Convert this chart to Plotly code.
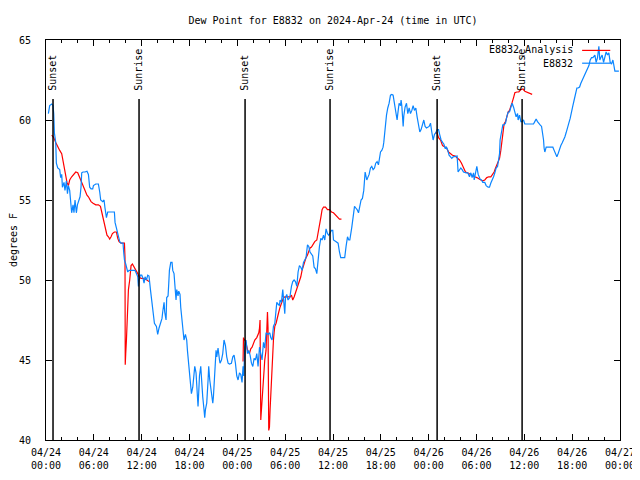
import pandas as pd
import plotly.graph_objects as go

START = pd.Timestamp("2024-04-24 00:00")
TITLE = "Dew Point for E8832 on 2024-Apr-24 (time in UTC)"
Y_LABEL = "degrees F"
SERIES_NAMES = ["E8832_Analysis", "E8832"]
Y_TICKS = [40, 45, 50, 55, 60, 65]

# Station observations: hours since 04/24 00:00 UTC, dew point (F)
blue_hours = [0.30, 0.46, 0.72, 0.88, 0.97, 1.05, 1.22, 1.30, 1.47, 1.72, 1.84, 1.97, 2.06, 2.26, 2.38, 2.56,
              2.69, 2.81, 2.97, 3.14, 3.22, 3.39, 3.51, 3.64, 3.81, 3.94, 4.14, 4.27, 4.39, 4.48, 4.64, 4.89,
              5.14, 5.32, 5.48, 5.65, 5.86, 5.95, 6.24, 6.57, 6.74, 6.86, 7.11, 7.28, 7.40, 7.58, 7.74, 7.99,
              8.33, 8.58, 8.66, 8.83, 9.00, 9.16, 9.25, 9.41, 9.66, 9.75, 9.84, 10.00, 10.09, 10.25, 10.41,
              10.59, 10.88, 11.17, 11.34, 11.51, 11.59, 11.67, 11.84, 12.01, 12.17, 12.30, 12.42, 12.60, 12.76,
              12.92, 13.10, 13.26, 13.43, 13.60, 13.85, 14.01, 14.18, 14.39, 14.55, 14.64, 14.81, 14.89, 15.06,
              15.14, 15.31, 15.40, 15.48, 15.65, 15.81, 15.90, 16.06, 16.15, 16.31, 16.40, 16.56, 16.65, 16.81,
              16.90, 17.06, 17.15, 17.31, 17.49, 17.65, 17.74, 17.90, 18.07, 18.24, 18.41, 18.49, 18.57, 18.66,
              18.82, 18.91, 19.00, 19.07, 19.16, 19.25, 19.41, 19.50, 19.66, 19.82, 19.91, 20.00, 20.16, 20.33,
              20.41, 20.54, 20.75, 20.92, 21.00, 21.17, 21.33, 21.42, 21.58, 21.76, 21.83, 22.01, 22.17, 22.33,
              22.51, 22.67, 22.84, 23.01, 23.26, 23.43, 23.59, 23.76, 23.93, 24.09, 24.27, 24.43, 24.59, 24.72,
              24.81, 24.93, 25.09, 25.27, 25.43, 25.60, 25.77, 25.94, 26.10, 26.27, 26.44, 26.60, 26.78, 26.94,
              27.10, 27.28, 27.44, 27.60, 27.85, 28.07, 28.19, 28.36, 28.53, 28.70, 28.86, 28.95, 29.11, 29.28,
              29.36, 29.53, 29.70, 29.79, 29.95, 30.04, 30.20, 30.36, 30.58, 30.79, 30.95, 31.12, 31.29, 31.46,
              31.62, 31.79, 31.96, 32.12, 32.30, 32.46, 32.62, 32.80, 32.96, 33.12, 33.30, 33.46, 33.63, 33.80,
              33.97, 34.13, 34.30, 34.47, 34.63, 34.81, 34.97, 35.13, 35.31, 35.47, 35.63, 35.81, 35.97, 36.06,
              36.35, 36.64, 36.81, 36.97, 37.22, 37.47, 37.64, 37.82, 37.98, 38.11, 38.36, 38.52, 38.70, 38.86,
              39.02, 39.20, 39.36, 39.52, 39.69, 39.86, 40.03, 40.15, 40.24, 40.36, 40.53, 40.70, 40.86, 41.03,
              41.21, 41.36, 41.53, 41.70, 41.78, 41.96, 42.12, 42.28, 42.37, 42.46, 42.54, 42.62, 42.71, 42.87,
              43.04, 43.21, 43.38, 43.54, 43.71, 43.88, 44.04, 44.13, 44.29, 44.47, 44.54, 44.63, 44.80, 44.88,
              45.04, 45.22, 45.38, 45.55, 45.72, 45.89, 46.05, 46.22, 46.39, 46.55, 46.73, 46.89, 47.05, 47.23,
              47.39, 47.55, 47.73, 48.06, 48.23, 48.39, 48.56, 48.73, 48.90, 49.06, 49.24, 49.40, 49.56, 49.74,
              49.90, 50.06, 50.24, 50.40, 50.56, 50.74, 50.90, 51.07, 51.32, 51.57, 51.69, 52.03, 52.20, 52.37,
              52.70, 52.91, 53.12, 53.29, 53.45, 53.63, 53.71, 53.88, 54.04, 54.21, 54.38, 54.46, 54.63, 54.79,
              55.04, 55.21, 55.46, 55.63, 55.80, 55.96, 56.14, 56.30, 56.46, 56.64, 56.71, 56.89, 56.96, 57.14,
              57.30, 57.46, 57.64, 57.80, 57.97, 58.14, 58.31, 58.47, 58.65, 58.81, 58.97, 59.15, 59.22, 59.40,
              59.56, 59.72, 59.90, 60.06, 60.56, 61.15, 61.31, 61.48, 61.65, 61.82, 61.98, 62.16, 62.32, 62.41,
              62.48, 62.57, 62.74, 63.58, 63.74, 63.91, 64.08, 64.24, 64.42, 64.58, 64.74, 64.92, 65.08, 65.24,
              65.42, 65.58, 65.75, 65.92, 66.09, 66.25, 66.42, 66.59, 66.75, 66.93, 67.09, 67.26, 67.43, 67.60,
              67.76, 67.94, 68.10, 68.26, 68.43, 68.60, 68.85, 69.01, 69.18, 69.35, 69.47, 69.60, 69.76, 69.94,
              70.10, 70.26, 70.44, 70.60, 70.77, 70.94, 71.11, 71.27, 71.36, 71.86]
blue_values = [60.4, 60.9, 61.0, 60.9, 60.4, 59.2, 58.6, 57.3, 57.0, 56.9, 56.4, 56.6, 55.8, 56.1, 55.6, 56.2,
               55.4, 55.9, 55.6, 54.8, 54.2, 54.7, 54.2, 55.0, 54.2, 54.7, 55.0, 55.2, 55.8, 56.7, 56.75, 56.75,
               56.8, 56.6, 55.8, 55.7, 55.7, 55.9, 56.0, 56.0, 55.5, 55.0, 54.9, 55.0, 54.5, 53.9, 54.25, 54.25,
               54.25, 54.25, 53.6, 53.25, 52.9, 52.6, 52.4, 52.3, 52.3, 51.7, 51.25, 51.0, 50.8, 50.5, 50.6,
               50.6, 50.6, 50.6, 50.4, 50.2, 49.6, 50.0, 50.3, 50.3, 50.1, 49.8, 50.2, 50.0, 50.3,
               50.25, 49.4, 48.6, 47.7, 47.3, 47.1, 46.6, 47.0, 47.3, 47.6, 48.0, 48.6, 48.0, 47.5,
               48.9, 49.0, 49.8, 50.6, 51.1, 51.1, 50.6, 50.4, 49.8, 48.75, 49.4, 49.0, 49.3, 49.1,
               48.3, 47.5, 46.7, 46.25, 46.6, 46.25, 45.6, 44.8, 43.75, 42.9, 43.3, 43.75, 44.1, 44.6,
               44.2, 43.4, 42.9, 42.1, 43.0, 44.0, 44.6, 43.75, 42.7, 41.9, 41.4, 41.9, 42.3, 43.75,
               44.6, 43.75, 42.9, 42.3, 42.7, 44.2, 45.6, 45.2, 45.75, 45.0, 44.8, 45.0, 45.4, 46.25,
               45.9, 45.2, 44.8, 44.75, 44.8, 45.2, 45.3, 44.8, 44.0, 43.75, 44.2, 44.1, 43.6, 44.6,
               44.0, 45.8, 46.25, 45.4, 45.6, 45.3, 44.8, 44.6, 45.1, 45.0, 45.4, 44.6, 45.8, 45.4,
               45.0, 46.1, 45.75, 46.7, 46.6, 46.7, 46.4, 46.25, 47.1, 47.3, 48.0, 48.6, 48.5, 48.4,
               48.75, 48.6, 49.4, 48.9, 47.9, 48.9, 49.1, 48.75, 48.9, 49.6, 49.9, 50.0, 49.9, 49.6,
               50.5, 50.9, 50.8, 50.6, 51.1, 51.25, 51.4, 52.2, 52.1, 51.75, 51.6, 51.5, 50.8, 50.7,
               50.4, 51.4, 52.1, 52.6, 52.5, 52.8, 52.5, 53.2, 52.9, 52.8, 53.0, 53.1, 53.1, 52.5,
               52.4, 52.3, 51.75, 51.4, 51.4, 51.4, 52.1, 52.7, 52.5, 52.5, 53.3, 53.9, 54.6, 54.5,
               54.4, 54.2, 54.6, 55.0, 55.1, 55.6, 56.75, 56.3, 56.25, 56.4, 56.6, 57.0, 57.1, 56.9,
               57.0, 57.3, 57.4, 57.2, 57.5, 58.0, 58.1, 58.3, 58.6, 59.2, 59.5, 60.0, 60.3, 60.75,
               61.05, 61.55, 61.6, 61.55, 60.9, 60.4, 60.0, 60.4, 61.05, 60.9, 61.25, 60.9, 59.6, 60.25,
               60.8, 61.05, 60.4, 60.75, 60.4, 60.6, 60.9, 60.6, 60.75, 60.2, 59.8, 59.25, 59.4, 59.8,
               60.0, 59.6, 59.5, 59.6, 59.8, 59.25, 58.75, 59.1, 59.2, 59.4, 59.4, 59.06, 58.75, 58.6,
               58.5, 58.25, 58.3, 58.1, 57.8, 57.7, 57.6, 57.7, 57.75, 57.75, 56.75, 57.0, 56.9, 56.75,
               56.7, 56.7, 56.45, 56.7, 56.4, 56.7, 56.25, 56.7, 57.1, 56.6, 56.45, 56.3, 56.25, 56.1,
               56.1, 55.9, 55.8, 55.8, 56.06, 56.2, 56.45, 56.7, 57.0, 57.1, 57.3, 57.9, 58.75, 59.4,
               59.7, 59.7, 59.8, 60.2, 60.5, 60.5, 60.8, 61.05, 60.8, 60.4, 60.2, 60.4, 60.0, 60.3,
               59.9, 59.9, 60.0, 59.75, 59.75, 59.75, 59.9, 60.06, 59.9, 59.75, 59.7, 59.6, 59.2, 58.75,
               58.25, 58.0, 58.3, 58.3, 58.1, 57.9, 57.7, 57.9, 58.25, 58.4, 58.56, 58.75, 58.94, 59.2,
               59.6, 59.8, 60.1, 60.6, 60.9, 61.25, 61.75, 62.0, 62.0, 62.06, 62.3, 62.5, 62.7, 62.9,
               63.1, 63.3, 63.4, 63.75, 63.9, 63.9, 64.06, 63.6, 63.9, 64.6, 63.75, 63.9, 64.06, 63.6,
               64.06, 64.25, 64.06, 64.2, 63.6, 63.5, 63.75, 63.4, 63.06, 63.06]

# Analysis: three segments (None marks a gap)
red_hours = [0.72, 0.97, 1.22, 1.47, 1.72, 1.97, 2.13, 2.31, 2.47, 2.63, 2.81, 2.97, 3.22, 3.48, 3.73, 3.98,
             4.14, 4.32, 4.48, 4.64, 4.82, 4.98, 5.14, 5.32, 5.48, 5.65, 5.90, 6.24, 6.57, 6.83, 6.99, 7.15,
             7.33, 7.49, 7.65, 7.83, 7.99, 8.16, 8.33, 8.58, 8.83, 9.00, 9.16, 9.41, 9.84, 9.91, 9.94, 10.00,
             10.09, 10.16, 10.25, 10.34, 10.50, 10.67, 10.84, 11.09, 11.34, 11.51, 11.67, 11.92, 12.17, 12.42,
             12.67, 12.92, None,
             24.72, 24.77, 24.84, 25.02, 25.18, 25.34, 25.52, 25.68, 25.85, 26.02, 26.19, 26.44, 26.69, 26.78,
             26.85, 26.94, 27.03, 27.10, 27.19, 27.28, 27.44, 27.60, 27.69, 27.78, 27.85, 27.94, 28.03, 28.11,
             28.19, 28.28, 28.36, 28.45, 28.53, 28.61, 28.70, 28.86, 29.04, 29.20, 29.36, 29.53, 29.79, 29.95,
             30.36, 30.61, 30.79, 30.95, 31.12, 31.29, 31.46, 31.62, 31.79, 31.96, 32.12, 32.30, 32.46, 32.62,
             32.80, 32.96, 33.12, 33.30, 33.55, 33.71, 33.97, 34.13, 34.30, 34.47, 34.63, 34.81, 35.06, 35.31,
             35.56, 35.81, 36.06, 36.31, 36.56, 36.81, 37.06, None,
             48.81, 49.06, 49.24, 49.49, 49.74, 49.99, 50.24, 50.49, 50.74, 50.99, 51.32, 51.62, 51.87, 52.12,
             52.37, 52.62, 52.87, 53.20, 53.45, 53.79, 54.04, 54.29, 54.54, 54.79, 55.04, 55.29, 55.54, 55.80,
             56.05, 56.21, 56.39, 56.55, 56.71, 56.89, 57.05, 57.14, 57.21, 57.30, 57.46, 57.64, 57.80, 57.97,
             58.14, 58.31, 58.47, 58.65, 58.81, 59.06, 59.31, 59.56, 59.82, 60.06, 60.31, 60.56, 60.81, 60.98]
red_values = [59.06, 58.9, 58.6, 58.3, 58.1, 57.9, 57.4, 56.9, 56.4, 56.1, 55.9, 56.25, 56.45, 56.6, 56.75, 56.7,
              56.5, 56.4, 56.1, 55.9, 55.75, 55.5, 55.3, 55.2, 55.06, 54.9, 54.8, 54.7, 54.7, 54.6, 54.25, 53.9,
              53.4, 53.0, 52.8, 52.7, 52.56, 52.7, 52.9, 53.0, 53.0, 52.6, 52.4, 52.3, 52.3, 51.4, 44.7, 45.4,
              46.25, 47.3, 48.3, 49.4, 50.0, 50.9, 51.0, 50.8, 50.6, 50.4, 50.2, 50.1, 50.1, 50.05,
              50.0, 49.9, None,
              44.9, 46.4, 46.3, 46.2, 45.8, 45.5, 45.4, 45.7, 45.8, 46.1, 46.25, 46.4, 46.7, 47.0,
              47.5, 41.25, 41.9, 42.5, 43.3, 44.2, 45.0, 45.6, 47.3, 48.0, 47.0, 40.6, 40.8, 41.9,
              42.9, 43.75, 44.6, 45.2, 46.25, 46.7, 47.1, 47.3, 47.6, 48.0, 48.3, 48.56, 48.9, 48.94,
              48.94, 48.94, 49.06, 48.75, 48.94, 49.2, 49.4, 49.7, 49.9, 50.2, 50.6, 50.9, 51.1, 51.4,
              51.56, 51.75, 52.0, 52.06, 52.3, 52.4, 52.5, 52.9, 53.3, 53.9, 54.4, 54.56, 54.56, 54.4,
              54.4, 54.25, 54.2, 54.06, 53.9, 53.8, 53.8, None,
              59.2, 59.2, 58.9, 58.75, 58.4, 58.3, 58.25, 58.0, 57.9, 57.8, 57.75, 57.6, 57.5, 57.3,
              57.0, 56.75, 56.7, 56.6, 56.5, 56.45, 56.4, 56.3, 56.25, 56.2, 56.25, 56.4, 56.45, 56.45,
              56.6, 56.75, 57.0, 57.2, 57.3, 57.6, 58.1, 58.56, 58.94, 59.4, 59.75, 59.9, 60.2, 60.5,
              60.6, 60.8, 61.1, 61.4, 61.7, 61.75, 61.75, 61.9, 61.94, 61.8, 61.75, 61.7, 61.67, 61.6]

# Sun events (hours since start)
sun_labels = ["Sunset", "Sunrise", "Sunset", "Sunrise", "Sunset", "Sunrise"]
sun_hours = [0.88, 11.67, 24.97, 35.63, 49.06, 59.72]

RED = "#FF0000"
BLUE = "#0A85FF"
FONT = "DejaVu Sans Mono"

# The page body has an 8px default margin, so the figure is sized to sit inside the window.
FIG_W, FIG_H = 632, 464


def to_time(hours):
    return [None if h is None else START + pd.Timedelta(hours=h) for h in hours]


fig = go.Figure()
fig.add_trace(go.Scatter(x=to_time(red_hours), y=red_values, mode="lines", name=SERIES_NAMES[0],
                         line=dict(color=RED, width=1.2), connectgaps=False, showlegend=False))
fig.add_trace(go.Scatter(x=to_time(blue_hours), y=blue_values, mode="lines", name=SERIES_NAMES[1],
                         line=dict(color=BLUE, width=1.2), showlegend=False))

for lab, h in zip(sun_labels, sun_hours):
    t = START + pd.Timedelta(hours=h)
    fig.add_shape(type="line", xref="x", yref="paper", x0=t, x1=t, y0=0, y1=0.8525,
                  line=dict(color="black", width=1.5))
    fig.add_annotation(x=t, xref="x", y=0.868, yref="paper", text=lab, textangle=-90,
                       showarrow=False, xanchor="center", yanchor="bottom",
                       font=dict(family=FONT, size=10, color="black"))

# legend (gnuplot style: text right-aligned, sample line to the right)
leg_colors = [RED, BLUE]
leg_y = [0.974, 0.942]
for name, col, yy in zip(SERIES_NAMES, leg_colors, leg_y):
    fig.add_annotation(x=0.921, xref="paper", y=yy, yref="paper", text=name, showarrow=False,
                       xanchor="right", yanchor="middle", font=dict(family=FONT, size=10, color="black"))
    fig.add_shape(type="line", xref="paper", yref="paper", x0=0.934, x1=0.983, y0=yy, y1=yy,
                  line=dict(color=col, width=1.2))

fig.update_layout(
    width=FIG_W, height=FIG_H,
    margin=dict(l=38, r=20, t=32, b=32, autoexpand=False),
    paper_bgcolor="white", plot_bgcolor="white",
    font=dict(family=FONT, size=10, color="black"),
    title=dict(text=TITLE, x=0.5, xref="paper", y=1 - 12 / FIG_H, yref="container", yanchor="middle",
               font=dict(family=FONT, size=10, color="black")),
)
fig.update_xaxes(
    type="date", automargin=False,
    range=[START, START + pd.Timedelta(hours=72)],
    tick0=START, dtick=6 * 3600 * 1000,
    tickformat="%m/%d<br>%H:%M",
    ticks="inside", ticklen=6, tickcolor="black",
    minor=dict(dtick=2 * 3600 * 1000, ticks="inside", ticklen=3, tickcolor="black", showgrid=False),
    showline=True, linecolor="black", linewidth=1, mirror="ticks",
    showgrid=False, zeroline=False,
    ticklabelstandoff=3, ticklabeloverflow="allow",
    tickfont=dict(family=FONT, size=10, color="black"),
)
fig.update_yaxes(
    range=[40, 65], tickvals=Y_TICKS, automargin=False,
    ticks="inside", ticklen=6, tickcolor="black",
    showline=True, linecolor="black", linewidth=1, mirror="ticks",
    showgrid=False, zeroline=False,
    ticklabelstandoff=12,
    title=dict(text=Y_LABEL, font=dict(family=FONT, size=10, color="black"), standoff=4),
    tickfont=dict(family=FONT, size=10, color="black"),
)

fig.write_html("out.html")
